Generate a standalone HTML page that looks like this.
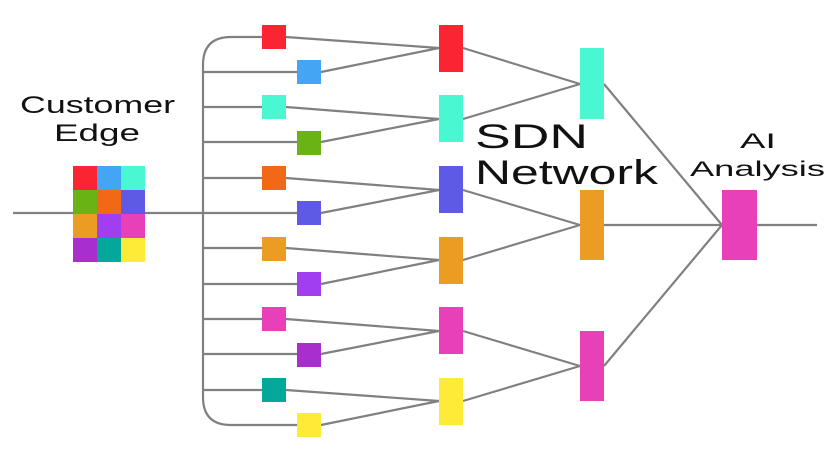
<!DOCTYPE html>
<html><head><meta charset="utf-8"><style>html,body{margin:0;padding:0;background:#fff}svg{display:block}</style></head>
<body>
<svg width="835" height="460" viewBox="0 0 835 460" xmlns="http://www.w3.org/2000/svg">
<g stroke="#808080" stroke-width="2.2" fill="none">
<line x1="13" y1="213" x2="203" y2="213"/>
<path d="M274 37 H231 Q203 37 203 65 V397 Q203 425 231 425 H309"/>
<line x1="203" y1="72" x2="309" y2="72"/>
<line x1="203" y1="107" x2="274" y2="107"/>
<line x1="203" y1="142" x2="309" y2="142"/>
<line x1="203" y1="178" x2="274" y2="178"/>
<line x1="203" y1="213" x2="309" y2="213"/>
<line x1="203" y1="248" x2="274" y2="248"/>
<line x1="203" y1="284" x2="309" y2="284"/>
<line x1="203" y1="319" x2="274" y2="319"/>
<line x1="203" y1="354" x2="309" y2="354"/>
<line x1="203" y1="390" x2="274" y2="390"/>
<path d="M286 37 L439 48 M321 72 L439 48"/>
<path d="M286 107 L439 119 M321 142 L439 119"/>
<path d="M286 178 L439 190 M321 213 L439 190"/>
<path d="M286 248 L439 260 M321 284 L439 260"/>
<path d="M286 319 L439 331 M321 354 L439 331"/>
<path d="M286 390 L439 401 M321 425 L439 401"/>
<path d="M463 48 L580 84 M463 119 L580 84"/>
<path d="M463 190 L580 225 M463 260 L580 225"/>
<path d="M463 331 L580 366 M463 401 L580 366"/>
<path d="M604 84 L722 225 M604 225 L722 225 M604 366 L722 225"/>
<line x1="757" y1="225" x2="817" y2="225"/>
</g>
<g>
<rect x="73" y="166" width="24" height="24" fill="#fb2433"/>
<rect x="97" y="166" width="24" height="24" fill="#45a5f5"/>
<rect x="121" y="166" width="24" height="24" fill="#49f8d2"/>
<rect x="73" y="190" width="24" height="24" fill="#6ab315"/>
<rect x="97" y="190" width="24" height="24" fill="#f16816"/>
<rect x="121" y="190" width="24" height="24" fill="#5f5ae6"/>
<rect x="73" y="214" width="24" height="24" fill="#eb9c22"/>
<rect x="97" y="214" width="24" height="24" fill="#a13ef0"/>
<rect x="121" y="214" width="24" height="24" fill="#e840b8"/>
<rect x="73" y="238" width="24" height="24" fill="#a92ece"/>
<rect x="97" y="238" width="24" height="24" fill="#03a89b"/>
<rect x="121" y="238" width="24" height="24" fill="#fdeb38"/>
</g>
<rect x="262" y="25" width="24" height="24" fill="#fb2433"/>
<rect x="297" y="60" width="24" height="24" fill="#45a5f5"/>
<rect x="262" y="95" width="24" height="24" fill="#49f8d2"/>
<rect x="297" y="131" width="24" height="24" fill="#6ab315"/>
<rect x="262" y="166" width="24" height="24" fill="#f16816"/>
<rect x="297" y="201" width="24" height="24" fill="#5f5ae6"/>
<rect x="262" y="237" width="24" height="24" fill="#eb9c22"/>
<rect x="297" y="272" width="24" height="24" fill="#a13ef0"/>
<rect x="262" y="307" width="24" height="24" fill="#e840b8"/>
<rect x="297" y="343" width="24" height="24" fill="#a92ece"/>
<rect x="262" y="378" width="24" height="24" fill="#03a89b"/>
<rect x="297" y="413" width="24" height="24" fill="#fdeb38"/>
<rect x="439" y="25" width="24" height="47" fill="#fb2433"/>
<rect x="439" y="95" width="24" height="47" fill="#49f8d2"/>
<rect x="439" y="166" width="24" height="47" fill="#5f5ae6"/>
<rect x="439" y="237" width="24" height="47" fill="#eb9c22"/>
<rect x="439" y="307" width="24" height="47" fill="#e840b8"/>
<rect x="439" y="378" width="24" height="47" fill="#fdeb38"/>
<rect x="580" y="48" width="24" height="71" fill="#49f8d2"/>
<rect x="580" y="190" width="24" height="70" fill="#eb9c22"/>
<rect x="580" y="331" width="24" height="70" fill="#e840b8"/>
<rect x="722" y="190" width="35" height="70" fill="#e840b8"/>
<g font-family="Liberation Sans, sans-serif" fill="#111">
<text x="20" y="113" font-size="24" textLength="155" lengthAdjust="spacingAndGlyphs">Customer</text>
<text x="54" y="141" font-size="24" textLength="86" lengthAdjust="spacingAndGlyphs">Edge</text>
<text x="475" y="148" font-size="34" textLength="113" lengthAdjust="spacingAndGlyphs">SDN</text>
<text x="475" y="184" font-size="34" textLength="183" lengthAdjust="spacingAndGlyphs">Network</text>
<text x="740" y="148" font-size="21" textLength="36" lengthAdjust="spacingAndGlyphs">AI</text>
<text x="690" y="176" font-size="21" textLength="135" lengthAdjust="spacingAndGlyphs">Analysis</text>
</g>
</svg>
</body></html>
